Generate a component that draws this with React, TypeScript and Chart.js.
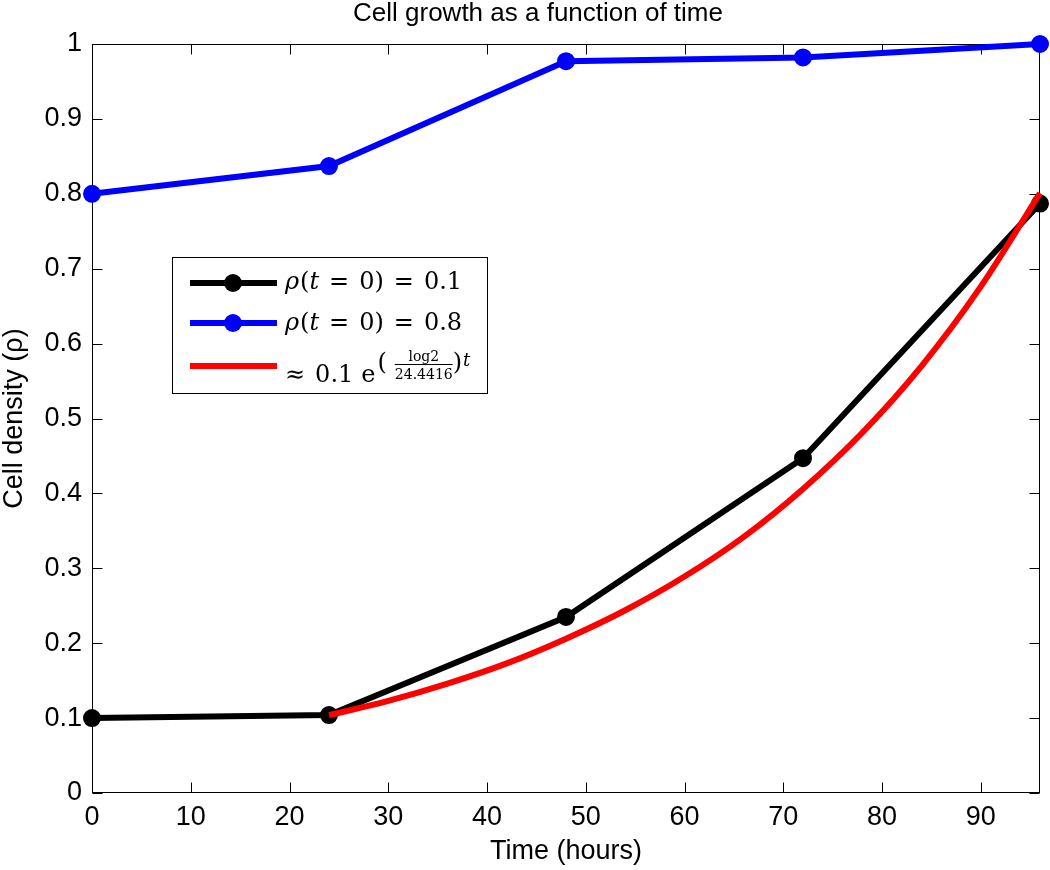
import React, { useEffect, useRef } from "react";
import { Chart, registerables } from "chart.js";

Chart.register(...registerables);

const chartTitle = "Cell growth as a function of time";
const xAxisTitle = "Time (hours)";
const yAxisTitle = "Cell density (ρ)";

const xTickValues = [0, 10, 20, 30, 40, 50, 60, 70, 80, 90];
const yTickValues = [0, 0.1, 0.2, 0.3, 0.4, 0.5, 0.6, 0.7, 0.8, 0.9, 1];
const yTickLabels = ["0", "0.1", "0.2", "0.3", "0.4", "0.5", "0.6", "0.7", "0.8", "0.9", "1"];

const hours = [0, 24, 48, 72, 96];
const densityLow = [0.1, 0.104, 0.235, 0.447, 0.787];
const densityHigh = [0.8, 0.837, 0.977, 0.982, 1.0];

const fitHours = [24, 30, 36, 42, 48, 54, 60, 66, 72, 78, 84, 90, 96];
const fitDensity = [0.104, 0.123, 0.146, 0.173, 0.206, 0.244, 0.289, 0.342, 0.406, 0.481, 0.57, 0.676, 0.801];

const legendLabels = ["ρ(t = 0) = 0.1", "ρ(t = 0) = 0.8", "≈ 0.1 e^(log2/24.4416)t"];

const SANS = '"Liberation Sans", Arial, Helvetica, sans-serif';
const SERIF = '"DejaVu Serif", "Liberation Serif", serif';

type Piece = { t: string; f: string; gap?: number; dy?: number };

function drawPieces(ctx: CanvasRenderingContext2D, pieces: Piece[], x: number, y: number) {
  let cx = x;
  for (const p of pieces) {
    cx += p.gap || 0;
    ctx.font = p.f;
    ctx.fillText(p.t, cx, y + (p.dy || 0));
    cx += ctx.measureText(p.t).width;
  }
  return cx;
}

const framePlugin = {
  id: "frame",
  beforeDatasetsDraw(chart: any) {
    const { ctx, chartArea, scales } = chart;
    const { left, right, top, bottom } = chartArea;
    ctx.save();
    ctx.strokeStyle = "#000";
    ctx.lineWidth = 1;
    const L = Math.round(left) + 0.5;
    const R = Math.round(right) - 0.5;
    const T = Math.round(top) + 0.5;
    const B = Math.round(bottom) - 0.5;
    ctx.strokeRect(L, T, R - L, B - T);
    const tl = 10;
    ctx.beginPath();
    for (const t of scales.x.ticks) {
      const px = Math.round(scales.x.getPixelForValue(t.value)) + 0.5;
      ctx.moveTo(px, B);
      ctx.lineTo(px, B - tl);
      ctx.moveTo(px, T);
      ctx.lineTo(px, T + tl);
    }
    for (const t of scales.y.ticks) {
      const py = Math.round(scales.y.getPixelForValue(t.value)) + 0.5;
      ctx.moveTo(L, py);
      ctx.lineTo(L + tl, py);
      ctx.moveTo(R, py);
      ctx.lineTo(R - tl, py);
    }
    ctx.stroke();
    ctx.restore();
  },
};

const overlayPlugin = {
  id: "overlay",
  afterDraw(chart: any) {
    const { ctx } = chart;
    ctx.save();
    // Title
    ctx.fillStyle = "#000";
    ctx.font = `26px ${SANS}`;
    ctx.textAlign = "center";
    ctx.textBaseline = "alphabetic";
    ctx.fillText(chartTitle, 538, 21);

    // Legend box
    const bx = 172, by = 257, bw = 315, bh = 136;
    ctx.fillStyle = "#fff";
    ctx.fillRect(bx, by, bw, bh);
    ctx.strokeStyle = "#000";
    ctx.lineWidth = 1;
    ctx.strokeRect(bx + 0.5, by + 0.5, bw, bh);

    const ds = chart.data.datasets;
    const rowsY = [283, 323, 366];
    [0, 1, 2].forEach((di, i) => {
      const d = ds[di];
      const y = rowsY[i];
      ctx.strokeStyle = d.borderColor;
      ctx.lineWidth = 6;
      ctx.beginPath();
      ctx.moveTo(190, y);
      ctx.lineTo(277, y);
      ctx.stroke();
      if (d.pointRadius > 0) {
        ctx.fillStyle = d.borderColor;
        ctx.beginPath();
        ctx.arc(233, y, 9, 0, Math.PI * 2);
        ctx.fill();
      }
    });

    ctx.fillStyle = "#000";
    ctx.textAlign = "left";
    ctx.textBaseline = "alphabetic";
    const R = `24px ${SERIF}`;
    const I = `italic 24px ${SERIF}`;
    const rowPieces = (val: string): Piece[] => [
      { t: "ρ", f: I },
      { t: "(", f: R, gap: 1 },
      { t: "t", f: I },
      { t: "=", f: R, gap: 10 },
      { t: "0", f: R, gap: 10 },
      { t: ")", f: R },
      { t: "=", f: R, gap: 10 },
      { t: val, f: R, gap: 10 },
    ];
    drawPieces(ctx, rowPieces("0.1"), 285, 289);
    drawPieces(ctx, rowPieces("0.8"), 285, 330);

    // Row 3: ≈ 0.1 e^( log2 / 24.4416 ) t
    const base = 382;
    let cx = drawPieces(ctx, [
      { t: "≈", f: R },
      { t: "0.1", f: R, gap: 10 },
      { t: "e", f: R, gap: 8 },
    ], 285, base);
    ctx.font = `24px ${SERIF}`;
    ctx.textBaseline = "middle";
    cx += 2;
    ctx.fillText("(", cx, 364);
    cx += ctx.measureText("(").width + 8;
    const small = `14px ${SERIF}`;
    ctx.font = small;
    const wDen = ctx.measureText("24.4416").width;
    const wNum = ctx.measureText("log2").width;
    ctx.textBaseline = "alphabetic";
    ctx.fillText("log2", cx + (wDen - wNum) / 2, 361);
    ctx.fillText("24.4416", cx, 379);
    ctx.fillRect(cx, 364, wDen, 1);
    cx += wDen;
    ctx.font = `24px ${SERIF}`;
    ctx.textBaseline = "middle";
    ctx.fillText(")", cx, 364);
    cx += ctx.measureText(")").width;
    ctx.textBaseline = "alphabetic";
    ctx.font = `italic 18px ${SERIF}`;
    ctx.fillText("t", cx + 1, 366);
    ctx.restore();
  },
};

export default function App() {
  const ref = useRef<HTMLCanvasElement | null>(null);

  useEffect(() => {
    document.body.style.margin = "0";
    const canvas = ref.current;
    if (!canvas) return;
    const chart = new Chart(canvas, {
      type: "line",
      data: {
        datasets: [
          {
            label: legendLabels[0],
            data: hours.map((h, i) => ({ x: h, y: densityLow[i] })),
            borderColor: "#000000",
            backgroundColor: "#000000",
            borderWidth: 6,
            pointRadius: 8,
            pointBorderWidth: 2,
            pointBackgroundColor: "#000000",
            pointBorderColor: "#000000",
            tension: 0,
            clip: false,
            order: 1,
          },
          {
            label: legendLabels[1],
            data: hours.map((h, i) => ({ x: h, y: densityHigh[i] })),
            borderColor: "#0000ff",
            backgroundColor: "#0000ff",
            borderWidth: 6,
            pointRadius: 8,
            pointBorderWidth: 2,
            pointBackgroundColor: "#0000ff",
            pointBorderColor: "#0000ff",
            tension: 0,
            clip: false,
            order: 2,
          },
          {
            label: legendLabels[2],
            data: fitHours.map((h, i) => ({ x: h, y: fitDensity[i] })),
            borderColor: "#ff0000",
            backgroundColor: "#ff0000",
            borderWidth: 6,
            pointRadius: 0,
            cubicInterpolationMode: "monotone",
            clip: false,
            order: 0,
          },
        ] as any,
      },
      options: {
        responsive: false,
        animation: false,
        devicePixelRatio: 1,
        layout: { padding: { top: 44, right: 8, left: 0, bottom: 0 } },
        plugins: {
          legend: { display: false },
          title: { display: false },
          tooltip: { enabled: false },
        },
        scales: {
          x: {
            type: "linear",
            min: 0,
            max: 96,
            afterBuildTicks: (s: any) => {
              s.ticks = xTickValues.map((v) => ({ value: v }));
            },
            afterFit: (s: any) => {
              s.height = 77;
            },
            grid: { display: false, drawTicks: false },
            border: { display: false },
            ticks: {
              padding: 8,
              color: "#000",
              font: { family: SANS, size: 27 },
              maxRotation: 0,
              autoSkip: false,
              callback: (v: any) => String(v),
            },
            title: {
              display: true,
              text: xAxisTitle,
              color: "#000",
              font: { family: SANS, size: 27 },
              padding: { top: 0, bottom: 2 },
            },
          },
          y: {
            type: "linear",
            min: 0,
            max: 1,
            afterBuildTicks: (s: any) => {
              s.ticks = yTickValues.map((v) => ({ value: v }));
            },
            afterFit: (s: any) => {
              s.width = 92;
            },
            grid: { display: false, drawTicks: false },
            border: { display: false },
            ticks: {
              padding: 10,
              color: "#000",
              font: { family: SANS, size: 27 },
              autoSkip: false,
              callback: (_v: any, i: number) => yTickLabels[i],
            },
            title: {
              display: true,
              text: yAxisTitle,
              color: "#000",
              font: { family: SANS, size: 27 },
              padding: { top: -2, bottom: 0 },
            },
          },
        },
      } as any,
      plugins: [framePlugin, overlayPlugin],
    });
    return () => chart.destroy();
  }, []);

  return (
    <div style={{ position: "absolute", left: 0, top: 0, width: 1050, height: 870, background: "#fff" }}>
      <canvas ref={ref} width={1050} height={870} style={{ display: "block", width: 1050, height: 870 }} />
    </div>
  );
}
